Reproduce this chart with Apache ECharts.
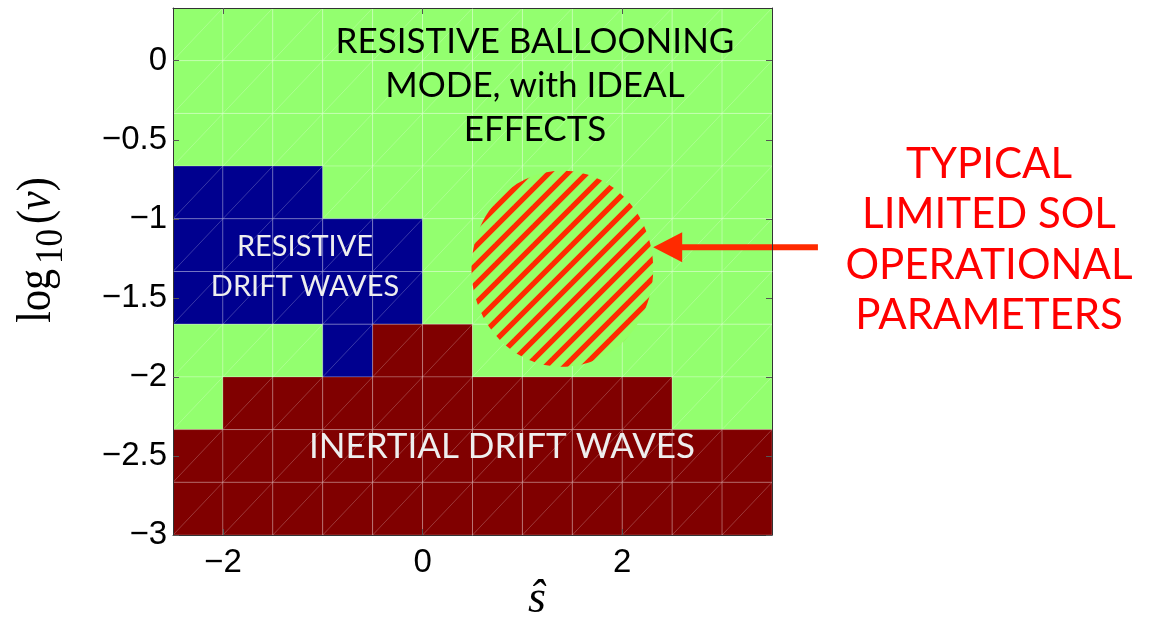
<!DOCTYPE html>
<html>
<head>
<meta charset="utf-8">
<script src="https://cdn.jsdelivr.net/npm/echarts@6/dist/echarts.min.js"></script>
<style>
  html, body { margin: 0; padding: 0; background: #ffffff; }
  #chart { width: 1149px; height: 622px; }
</style>
</head>
<body>
<div id="chart"></div>
<script>
// Regime map in the (s-hat, log10 nu) plane, built from 0.5 x 1/3 cells.
const sLeftEdges = [-2.5, -2, -1.5, -1, -0.5, 0, 0.5, 1, 1.5, 2, 2.5, 3];
const logNuTopEdges = [1/3, 0, -1/3, -2/3, -1, -4/3, -5/3, -2, -7/3, -8/3];
const cellWidth = 0.5;
const cellHeight = 1/3;
// B = resistive ballooning, R = resistive drift waves, I = inertial drift waves
const regimeRows = [
  'BBBBBBBBBBBB',
  'BBBBBBBBBBBB',
  'BBBBBBBBBBBB',
  'RRRBBBBBBBBB',
  'RRRRRBBBBBBB',
  'RRRRRBBBBBBB',
  'BBBRIIBBBBBB',
  'BIIIIIIIIIBB',
  'IIIIIIIIIIII',
  'IIIIIIIIIIII'
];
const sTicks = [-2, 0, 2];
const logNuTicks = [-3, -2.5, -2, -1.5, -1, -0.5, 0];

// Typical limited-SOL operating window (ellipse) and the arrow pointing at it
const opCenter = [1.40, -1.316];
const opRadius = [0.91, 0.62];
const arrowTail = [3.96, -1.18];
const arrowTip = [2.31, -1.18];

const regimeColors = { B: '#93ff6f', R: '#00008f', I: '#800000' };
const gridLine = 'rgba(255,255,255,0.22)';

const cellData = [];
const cellRegime = [];
regimeRows.forEach((row, r) => {
  row.split('').forEach((code, c) => {
    cellData.push([sLeftEdges[c], logNuTopEdges[r] - cellHeight]);
    cellRegime.push(code);
  });
});

// Diagonal hatch tile for the operating window
function makeHatch() {
  const t = 19;
  const cv = document.createElement('canvas');
  cv.width = t; cv.height = t;
  const g = cv.getContext('2d');
  g.fillStyle = '#96ff66';
  g.fillRect(0, 0, t, t);
  g.strokeStyle = '#ff2a00';
  g.lineWidth = 5.3;
  [0, t, 2 * t].forEach(k => {
    g.beginPath();
    g.moveTo(-2, k + 2);
    g.lineTo(k + 2, -2);
    g.stroke();
  });
  return cv;
}
const hatch = makeHatch();

const fmt = v => (v < 0 ? '\u2212' + Math.abs(v) : String(v));
const tickFont = { fontFamily: 'Liberation Sans', fontSize: 33, color: '#000' };
const axisLineStyle = { color: '#333', width: 1 };
const tickStyle = { color: '#555', width: 1 };

const chart = echarts.init(document.getElementById('chart'), null, { renderer: 'canvas' });

chart.setOption({
  animation: false,
  grid: { left: 173, right: 377, top: 8, bottom: 87, containLabel: false },
  xAxis: [
    {
      type: 'value', min: -2.5, max: 3.5, position: 'bottom', z: 10,
      axisLine: { show: true, onZero: false, lineStyle: axisLineStyle },
      axisTick: { show: true, inside: true, length: 6, customValues: sTicks, lineStyle: tickStyle },
      axisLabel: Object.assign({ customValues: sTicks, formatter: fmt, margin: 11 }, tickFont),
      splitLine: { show: false }
    },
    {
      type: 'value', min: -2.5, max: 3.5, position: 'top', z: 10,
      axisLine: { show: true, onZero: false, lineStyle: axisLineStyle },
      axisTick: { show: true, inside: true, length: 6, customValues: sTicks, lineStyle: tickStyle },
      axisLabel: { show: false },
      splitLine: { show: false }
    }
  ],
  yAxis: [
    {
      type: 'value', min: -3, max: 1/3, position: 'left', z: 10,
      axisLine: { show: true, onZero: false, lineStyle: axisLineStyle },
      axisTick: { show: true, inside: true, length: 6, customValues: logNuTicks, lineStyle: tickStyle },
      axisLabel: Object.assign({ customValues: logNuTicks, formatter: fmt, margin: 6 }, tickFont),
      splitLine: { show: false }
    },
    {
      type: 'value', min: -3, max: 1/3, position: 'right', z: 10,
      axisLine: { show: true, onZero: false, lineStyle: axisLineStyle },
      axisTick: { show: true, inside: true, length: 6, customValues: logNuTicks, lineStyle: tickStyle },
      axisLabel: { show: false },
      splitLine: { show: false }
    }
  ],
  series: [
    {
      type: 'custom',
      name: 'regimes',
      xAxisIndex: 0, yAxisIndex: 0,
      data: cellData,
      encode: { x: 0, y: 1 },
      renderItem: function (params, api) {
        const s = api.value(0), nu = api.value(1);
        const p0 = api.coord([s, nu]);
        const p1 = api.coord([s + cellWidth, nu + cellHeight]);
        const fill = regimeColors[cellRegime[params.dataIndex]];
        return {
          type: 'group',
          children: [
            {
              type: 'rect',
              shape: { x: p0[0], y: p1[1], width: p1[0] - p0[0], height: p0[1] - p1[1] },
              style: { fill: fill, stroke: gridLine, lineWidth: 1 }
            },
            {
              type: 'line',
              shape: { x1: p0[0], y1: p0[1], x2: p1[0], y2: p1[1] },
              style: { stroke: gridLine, lineWidth: 1 }
            }
          ]
        };
      }
    },
    {
      type: 'custom',
      name: 'operating window',
      xAxisIndex: 0, yAxisIndex: 0,
      data: [[opCenter[0], opCenter[1], opRadius[0], opRadius[1]]],
      encode: { x: 0, y: 1 },
      renderItem: function (params, api) {
        const cx = api.value(0), cy = api.value(1), rx = api.value(2), ry = api.value(3);
        const pts = [];
        for (let k = 0; k < 180; k++) {
          const a = (k / 180) * Math.PI * 2;
          pts.push(api.coord([cx + rx * Math.cos(a), cy + ry * Math.sin(a)]));
        }
        return {
          type: 'polygon',
          shape: { points: pts },
          style: { fill: { image: hatch, repeat: 'repeat' }, stroke: null }
        };
      }
    },
    {
      type: 'custom',
      name: 'pointer',
      xAxisIndex: 0, yAxisIndex: 0,
      clip: false,
      data: [[arrowTail[0], arrowTail[1], arrowTip[0], arrowTip[1]]],
      encode: { x: [0, 2], y: [1, 3] },
      renderItem: function (params, api) {
        const t = api.coord([api.value(0), api.value(1)]);
        const h = api.coord([api.value(2), api.value(3)]);
        const dx = t[0] - h[0], dy = t[1] - h[1];
        const len = Math.sqrt(dx * dx + dy * dy);
        const ux = dx / len, uy = dy / len;
        const headLen = 29, headHalf = 15;
        const bx = h[0] + ux * headLen, by = h[1] + uy * headLen;
        return {
          type: 'group',
          children: [
            {
              type: 'line',
              shape: { x1: t[0], y1: t[1], x2: bx - ux * 2, y2: by - uy * 2 },
              style: { stroke: '#ff2a00', lineWidth: 6 }
            },
            {
              type: 'polygon',
              shape: { points: [h, [bx - uy * headHalf, by + ux * headHalf], [bx + uy * headHalf, by - ux * headHalf]] },
              style: { fill: '#ff2a00' }
            }
          ]
        };
      }
    }
  ],
  graphic: [
    {
      type: 'text', x: 535, y: 86, z: 20,
      style: {
        text: 'RESISTIVE BALLOONING\nMODE, with IDEAL\nEFFECTS',
        fontFamily: 'Lato', fontSize: 35, lineHeight: 44,
        fill: '#000000', align: 'center', verticalAlign: 'middle'
      }
    },
    {
      type: 'text', x: 305, y: 267, z: 20,
      style: {
        text: 'RESISTIVE\nDRIFT WAVES',
        fontFamily: 'Lato', fontSize: 29, lineHeight: 40,
        fill: '#eeeeee', align: 'center', verticalAlign: 'middle'
      }
    },
    {
      type: 'text', x: 502, y: 447, z: 20,
      style: {
        text: 'INERTIAL DRIFT WAVES',
        fontFamily: 'Lato', fontSize: 35,
        fill: '#eeeeee', align: 'center', verticalAlign: 'middle'
      }
    },
    {
      type: 'text', x: 989, y: 240, z: 20,
      style: {
        text: 'TYPICAL\nLIMITED SOL\nOPERATIONAL\nPARAMETERS',
        fontFamily: 'Lato', fontSize: 42, lineHeight: 50.5,
        fill: '#ff0000', align: 'center', verticalAlign: 'middle'
      }
    },
    {
      type: 'text', x: 537, y: 600, z: 20,
      style: {
        text: '\u015D',
        fontFamily: 'Liberation Serif', fontStyle: 'italic', fontSize: 46,
        fill: '#000000', align: 'center', verticalAlign: 'middle'
      }
    },
    {
      type: 'text', x: 42, y: 250, z: 20, rotation: Math.PI / 2, scaleY: 1.15,
      style: {
        text: '{m|log}{s|10}{m|(}{i|\u03BD}{m|)}',
        align: 'center', verticalAlign: 'middle', fill: '#000000',
        rich: {
          m: { fontFamily: 'Liberation Serif', fontSize: 42, lineHeight: 50, verticalAlign: 'top' },
          i: { fontFamily: 'Liberation Serif', fontStyle: 'italic', fontSize: 42, lineHeight: 50, verticalAlign: 'top' },
          s: { fontFamily: 'Liberation Serif', fontSize: 35, lineHeight: 35, padding: [16, 5, 0, 5], verticalAlign: 'top' }
        }
      }
    }
  ]
});
</script>
</body>
</html>
